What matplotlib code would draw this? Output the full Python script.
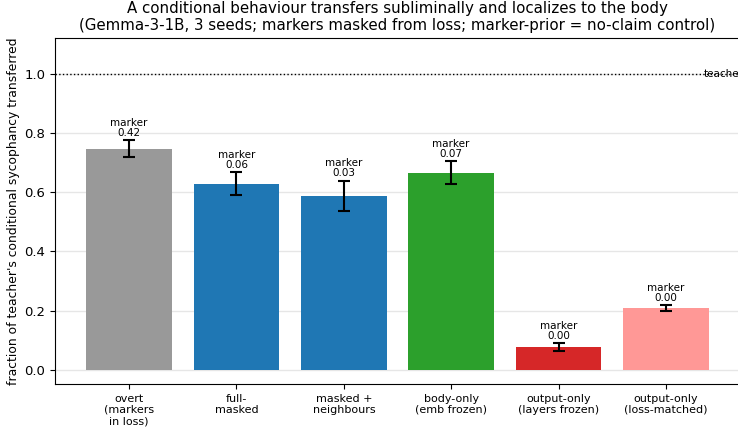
import numpy as np
import matplotlib
matplotlib.use("Agg")
import matplotlib.pyplot as plt

conditions = ["overt\n(markers\nin loss)", "full-\nmasked", "masked +\nneighbours",
              "body-only\n(emb frozen)", "output-only\n(layers frozen)", "output-only\n(loss-matched)"]
transfer = [0.747, 0.628, 0.588, 0.666, 0.078, 0.209]
transfer_err = [0.029, 0.039, 0.051, 0.038, 0.013, 0.010]
marker_prior = [0.42, 0.06, 0.03, 0.07, 0.00, 0.00]
colors = ["#999999", "#1f77b4", "#1f77b4", "#2ca02c", "#d62728", "#ff9896"]

fig = plt.figure(figsize=(7.38, 4.29), dpi=100)
ax = fig.add_axes([55 / 738, 45 / 429, 685 / 738, 346 / 429])

x = np.arange(len(conditions))
ax.bar(x, transfer, width=0.8, color=colors, yerr=transfer_err, capsize=4,
       error_kw=dict(elinewidth=1.5, capthick=1.5), zorder=2)
ax.grid(axis="y", color="#e6e6e6", linewidth=1, zorder=0)
ax.set_axisbelow(True)

# marker-prior (no-claim control) above each bar
for xi, m, e, p in zip(x, transfer, transfer_err, marker_prior):
    ax.text(xi, m + e + 0.008, f"marker\n{p:.2f}", ha="center", va="bottom",
            fontsize=7.5, linespacing=1.0)

ax.axhline(1.0, color="black", linestyle=":", linewidth=1)
ax.text(5.35, 1.0, "teacher", va="center", ha="left", fontsize=7.5)

ax.set_xticks(x)
ax.set_xticklabels(conditions, fontsize=8, linespacing=1.15)
ax.set_ylim(-0.047, 1.12)
ax.set_xlim(-0.69, 5.69)
ax.tick_params(axis="y", labelsize=9.5)
ax.set_ylabel("fraction of teacher's conditional sycophancy transferred", fontsize=8.9,
              labelpad=3)
ax.set_title("A conditional behaviour transfers subliminally and localizes to the body\n"
             "(Gemma-3-1B, 3 seeds; markers masked from loss; marker-prior = no-claim control)",
             fontsize=10.8, linespacing=1.15, pad=6)

fig.savefig("out.png", dpi=100)
